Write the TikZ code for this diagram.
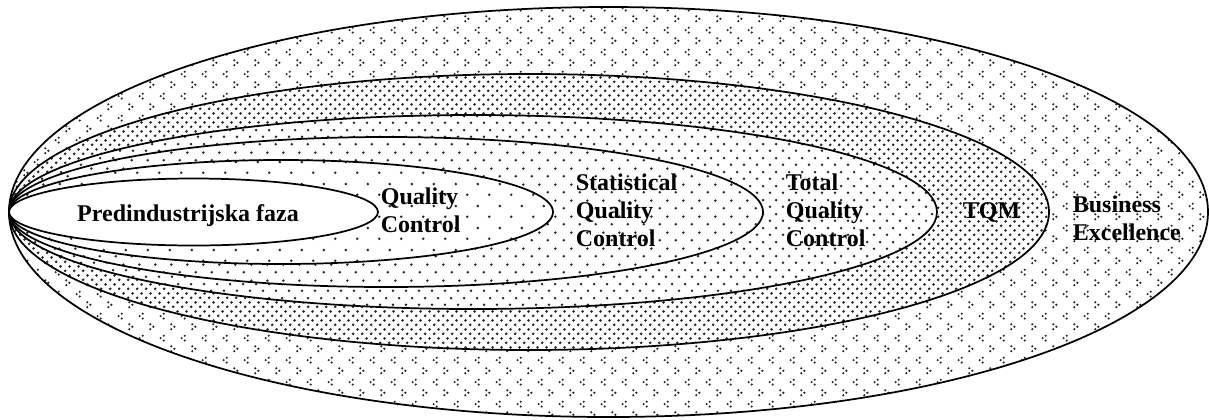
\documentclass[tikz,border=0pt]{standalone}
\usepackage{fontspec}
\setmainfont{Liberation Serif}
\usetikzlibrary{patterns}

% fill patterns of the rings
\pgfdeclarepatternformonly{qcdots}{\pgfqpoint{0pt}{0pt}}{\pgfqpoint{16.5pt}{16.5pt}}{\pgfqpoint{16.5pt}{16.5pt}}{%
  \pgfpathcircle{\pgfqpoint{4.125pt}{4.125pt}}{1.1pt}%
  \pgfpathcircle{\pgfqpoint{12.375pt}{12.375pt}}{1.1pt}%
  \pgfusepath{fill}}
\pgfdeclarepatternformonly{statdots}{\pgfqpoint{0pt}{0pt}}{\pgfqpoint{12pt}{12pt}}{\pgfqpoint{12pt}{12pt}}{%
  \pgfpathcircle{\pgfqpoint{3pt}{3pt}}{1.1pt}%
  \pgfpathcircle{\pgfqpoint{9pt}{9pt}}{1.1pt}%
  \pgfusepath{fill}}
\pgfdeclarepatternformonly{tqcdots}{\pgfqpoint{0pt}{0pt}}{\pgfqpoint{9.75pt}{10.5pt}}{\pgfqpoint{9.75pt}{10.5pt}}{%
  \pgfpathcircle{\pgfqpoint{2.44pt}{2.63pt}}{1.1pt}%
  \pgfpathcircle{\pgfqpoint{7.31pt}{7.88pt}}{1.1pt}%
  \pgfusepath{fill}}
\pgfdeclarepatternformonly{tqmdots}{\pgfqpoint{0pt}{0pt}}{\pgfqpoint{7pt}{7pt}}{\pgfqpoint{7pt}{7pt}}{%
  \pgfpathcircle{\pgfqpoint{1.75pt}{1.75pt}}{1.15pt}%
  \pgfpathcircle{\pgfqpoint{5.25pt}{5.25pt}}{1.15pt}%
  \pgfusepath{fill}}
\pgfdeclarepatternformonly{bechevrons}{\pgfqpoint{0pt}{0pt}}{\pgfqpoint{15.75pt}{16.5pt}}{\pgfqpoint{15.75pt}{16.5pt}}{%
  \pgfpathcircle{\pgfqpoint{2.6pt}{6pt}}{0.9pt}%
  \pgfpathcircle{\pgfqpoint{5pt}{4.1pt}}{0.9pt}%
  \pgfpathcircle{\pgfqpoint{2.6pt}{2.2pt}}{0.9pt}%
  \pgfpathcircle{\pgfqpoint{13.1pt}{14.3pt}}{0.9pt}%
  \pgfpathcircle{\pgfqpoint{10.7pt}{12.4pt}}{0.9pt}%
  \pgfpathcircle{\pgfqpoint{13.1pt}{10.5pt}}{0.9pt}%
  \pgfusepath{fill}}

\begin{document}
\begin{tikzpicture}[x=0.75pt,y=-0.75pt,line width=1.3pt,line join=round,
  ring/.style={draw,preaction={fill=white},pattern color=black!85},
  lbl/.style={font=\fontsize{18}{21}\selectfont\bfseries,align=left,inner sep=0pt}]
\useasboundingbox (0,0) rectangle (1209,419);
% rings, outside in
\draw[ring,pattern=bechevrons] (608.5,212) ellipse [x radius=599.5,y radius=205];
\draw[ring,pattern=tqmdots] (529,212) ellipse [x radius=520,y radius=138];
\draw[ring,pattern=tqcdots] (473,212) ellipse [x radius=464,y radius=97];
\draw[ring,pattern=statdots] (386,212) ellipse [x radius=377,y radius=75];
\draw[ring,pattern=qcdots] (281,212) ellipse [x radius=272,y radius=52];
\draw[fill=white] (193.5,212) ellipse [x radius=184.5,y radius=33.5];
% labels
\node[lbl,anchor=base] (pred) at (188,221) {Predindustrijska faza};
\node[lbl,anchor=west] (qc) at (380,210) {Quality\\Control};
\node[lbl,anchor=west] (sqc) at (575,210) {Statistical\\Quality\\Control};
\node[lbl,anchor=west] (tqc) at (785,210) {Total\\Quality\\Control};
\node[lbl,anchor=base west] (tqm) at (962,218) {TQM};
\node[lbl,anchor=west] (be) at (1072,218) {Business\\Excellence};
\end{tikzpicture}
\end{document}
